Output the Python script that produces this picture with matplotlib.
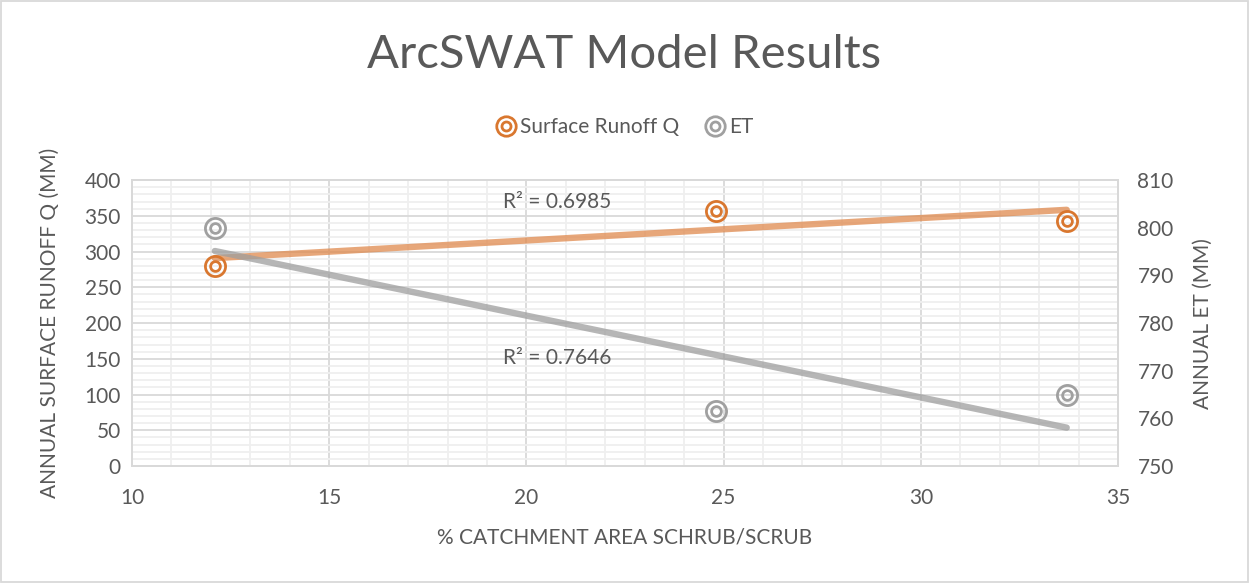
import numpy as np
import matplotlib.pyplot as plt
from matplotlib.lines import Line2D
from matplotlib.legend_handler import HandlerTuple

plt.rcParams['font.family'] = ['Lato', 'DejaVu Sans']

# data
scrub_pct = [12.1, 24.8, 33.7]
runoff_q = [280, 357, 343]
et = [800, 761.5, 765]
r2_runoff = "R² = 0.6985"
r2_et = "R² = 0.7646"

orange = '#D9772F'
gray = '#A0A0A0'
txt = '#595959'

fig = plt.figure(figsize=(12.49, 5.83), dpi=100)
ax = fig.add_axes([0.1057, 0.2007, 0.7894, 0.4903])
ax2 = ax.twinx()

# grid
ax.set_xlim(10, 35)
ax.set_ylim(0, 400)
ax.set_xticks(np.arange(10, 36, 5))
ax.set_xticks(np.arange(10, 36, 1), minor=True)
ax.set_yticks(np.arange(0, 401, 50))
ax.set_yticks(np.arange(0, 401, 10), minor=True)
ax.grid(which='minor', color='#EFEFEF', lw=1.3)
ax.grid(which='major', color='#D9D9D9', lw=1.3)
ax.set_axisbelow(True)
ax.tick_params(which='both', length=0, labelsize=15, labelcolor=txt)
ax.tick_params(axis='x', pad=16)
ax.tick_params(axis='y', pad=8)
ax2.set_ylim(750, 810)
ax2.set_yticks(np.arange(750, 811, 10))
ax2.tick_params(length=0, labelsize=15, labelcolor=txt, pad=14)
for a in (ax, ax2):
    for s in a.spines.values():
        s.set_color('#D9D9D9')
        s.set_linewidth(1.3)

# trendlines
xs = np.array([min(scrub_pct), max(scrub_pct)])
p1 = np.polyfit(scrub_pct, runoff_q, 1)
p2 = np.polyfit(scrub_pct, et, 1)
ax.plot(xs, np.polyval(p1, xs), color='#E08A4E', alpha=0.75, lw=4.6, solid_capstyle='round', zorder=3)
ax2.plot(xs, np.polyval(p2, xs), color='#9E9E9E', alpha=0.75, lw=4.6, solid_capstyle='round', zorder=3)

# markers (double circles)
ax.plot(scrub_pct, runoff_q, 'o', ms=14.5, mfc='none', mec=orange, mew=2, zorder=4)
ax.plot(scrub_pct, runoff_q, 'o', ms=7, mfc='none', mec=orange, mew=2, zorder=4)
ax2.plot(scrub_pct, et, 'o', ms=14.5, mfc='none', mec=gray, mew=2, zorder=4)
ax2.plot(scrub_pct, et, 'o', ms=7, mfc='none', mec=gray, mew=2, zorder=4)

ax.text(19.4, 369, r2_runoff, fontsize=15, color=txt, va='center')
ax.text(19.4, 151, r2_et, fontsize=15, color=txt, va='center')

ax.set_xlabel('% CATCHMENT AREA SCHRUB/SCRUB', fontsize=15, color=txt, labelpad=14)
ax.set_ylabel('ANNUAL SURFACE RUNOFF Q (MM)', fontsize=15, color=txt, labelpad=18)
ax2.set_ylabel('ANNUAL ET (MM)', fontsize=15, color=txt, labelpad=14)

fig.text(0.5, 0.905, 'ArcSWAT Model Results', fontsize=34, color=txt, ha='center', va='center')

def dbl(c):
    return (Line2D([], [], ls='none', marker='o', ms=14, mfc='none', mec=c, mew=2),
            Line2D([], [], ls='none', marker='o', ms=6.5, mfc='none', mec=c, mew=2))

fig.legend([dbl(orange), dbl(gray)], ['Surface Runoff Q', 'ET'],
           handler_map={tuple: HandlerTuple(ndivide=1)},
           loc='center', bbox_to_anchor=(0.5, 0.782), ncol=2, frameon=False,
           fontsize=15, labelcolor=txt, handlelength=1.0, handletextpad=0.2, columnspacing=1.2)

fig.patches.append(plt.Rectangle((0.001, 0.002), 0.998, 0.996, transform=fig.transFigure,
                                 fill=False, edgecolor='#D9D9D9', lw=1.3))

fig.savefig('out.png', dpi=100)
